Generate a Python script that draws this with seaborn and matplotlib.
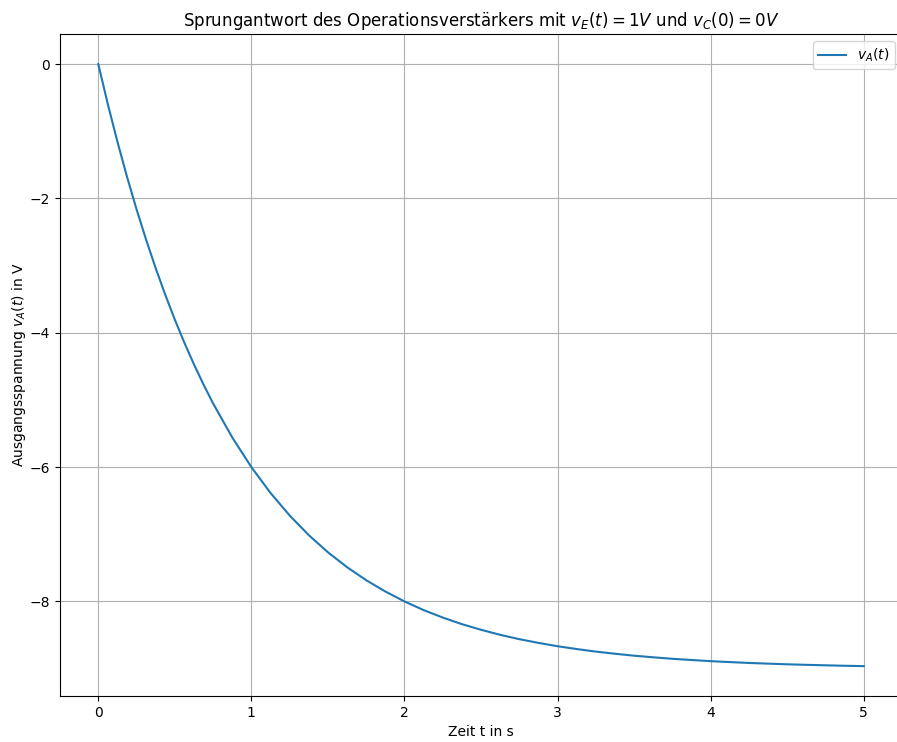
import numpy as np
import pandas as pd
import matplotlib
matplotlib.use('Agg')
import matplotlib.pyplot as plt
import seaborn as sns

# values
t_s = [0, 0.0625, 0.125, 0.1875, 0.25, 0.3125, 0.375, 0.4375, 0.5, 0.5625, 0.625, 0.6875,
       0.75, 0.875, 1.0, 1.125, 1.25, 1.375, 1.5, 1.625, 1.75, 1.875, 2.0, 2.125, 2.25,
       2.375, 2.5, 2.625, 2.75, 2.875, 3.0, 3.125, 3.25, 3.375, 3.5, 3.625, 3.75, 3.875,
       4.0, 4.125, 4.25, 4.375, 4.5, 4.625, 4.75, 4.875, 5.0]
v_a = [0.0, -0.598, -1.155, -1.676, -2.162, -2.615, -3.038, -3.434, -3.804, -4.149, -4.470, -4.771,
       -5.052, -5.558, -6.000, -6.385, -6.720, -7.013, -7.268, -7.490, -7.684, -7.852, -8.000, -8.129,
       -8.240, -8.338, -8.422, -8.497, -8.562, -8.617, -8.667, -8.709, -8.747, -8.779, -8.808, -8.832,
       -8.854, -8.872, -8.889, -8.903, -8.916, -8.926, -8.936, -8.944, -8.951, -8.958, -8.963]

df = pd.DataFrame({'t': t_s, 'v': v_a})

fig = plt.figure(figsize=(8.97, 7.42), dpi=100)
ax = fig.add_axes([60 / 897, 46 / 742, 842 / 897, 662 / 742])
sns.lineplot(data=df, x='t', y='v', ax=ax, label=r'$v_A(t)$', color='#1f77b4', linewidth=1.5)
ax.set_xlim(-0.25, 5.25)
ax.set_ylim(-9.408, 0.448)
ax.set_xticks([0, 1, 2, 3, 4, 5])
ax.set_yticks([0, -2, -4, -6, -8])
ax.grid(True)
ax.spines['right'].set_visible(False)
ax.set_title(r'Sprungantwort des Operationsverstärkers mit $v_E(t) = 1V$ und $v_C(0) = 0V$')
ax.set_xlabel('Zeit t in s')
ax.set_ylabel(r'Ausgangsspannung $v_A(t)$ in V', labelpad=1)
ax.legend(loc='upper right', bbox_to_anchor=(1.0, 1.0))
fig.savefig('out.png', dpi=100)
